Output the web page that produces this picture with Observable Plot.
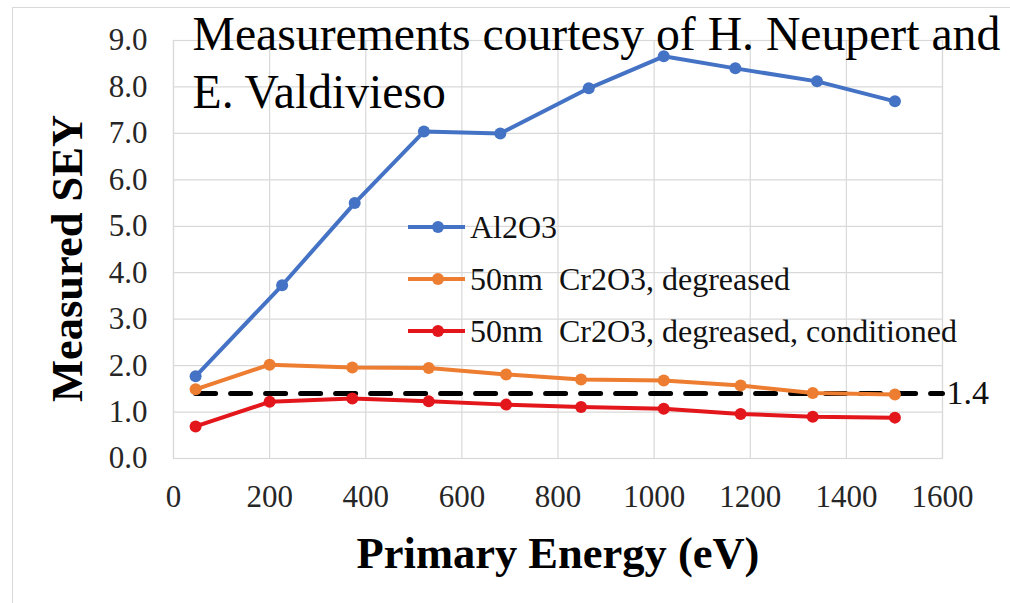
<!DOCTYPE html>
<html>
<head>
<meta charset="utf-8">
<script src="https://cdn.jsdelivr.net/npm/d3@7"></script>
<script src="https://cdn.jsdelivr.net/npm/@observablehq/plot@0.6"></script>
<style>
  html, body { margin: 0; padding: 0; background: #fff; }
  #wrap { position: relative; width: 1010px; height: 603px; overflow: hidden; }
  #border { position: absolute; left: 12px; top: 7px; width: 1100px; height: 700px; border: 1px solid #d9d9d9; box-sizing: border-box; pointer-events: none; }
  #legend { position: absolute; left: 400px; top: 200px; }
</style>
</head>
<body>
<div id="wrap">
  <div id="border"></div>
  <div id="chart"></div>
  <div id="legend"></div>
</div>
<script>
// Series names and colours
const seriesNames = ["Al2O3", "50nm Cr2O3, degreased", "50nm Cr2O3, degreased, conditioned"];
const seriesColors = ["#4472C4", "#ED7D31", "#E3161B"];

// Al2O3
const al2o3Energy = [46, 226, 377, 521, 680, 864, 1020, 1169, 1339, 1501];
const al2o3Sey    = [1.77, 3.73, 5.50, 7.04, 7.00, 7.97, 8.66, 8.40, 8.12, 7.69];

// 50nm Cr2O3, degreased
const cr2o3Energy = [46, 200, 372, 531, 692, 848, 1020, 1180, 1330, 1501];
const cr2o3Sey    = [1.49, 2.02, 1.96, 1.95, 1.81, 1.70, 1.68, 1.57, 1.41, 1.38];

// 50nm Cr2O3, degreased, conditioned
const cr2o3CondEnergy = [46, 200, 372, 531, 692, 848, 1020, 1180, 1330, 1501];
const cr2o3CondSey    = [0.69, 1.22, 1.29, 1.23, 1.16, 1.11, 1.07, 0.96, 0.90, 0.88];

// Threshold line
const thresholdValue = 1.4;
const thresholdRange = [46, 1600];

// Axis ticks
const xTicks = [0, 200, 400, 600, 800, 1000, 1200, 1400, 1600];
const yTicks = [0, 1, 2, 3, 4, 5, 6, 7, 8, 9];

const annotation = "Measurements courtesy of H. Neupert and\nE. Valdivieso";
const xTitle = "Primary Energy (eV)";
const yTitle = "Measured SEY";

const energies = [al2o3Energy, cr2o3Energy, cr2o3CondEnergy];
const seys = [al2o3Sey, cr2o3Sey, cr2o3CondSey];
const data = seriesNames.flatMap((s, i) => energies[i].map((e, j) => ({series: s, x: e, y: seys[i][j]})));
const thresholdData = thresholdRange.map(x => ({x, y: thresholdValue}));

const chart = Plot.plot({
  width: 1010,
  height: 603,
  marginLeft: 173,
  marginRight: 68,
  marginTop: 40,
  marginBottom: 145,
  style: { fontFamily: "Liberation Serif", background: "transparent", overflow: "visible" },
  x: { domain: [0, 1600] },
  y: { domain: [0, 9] },
  color: { domain: seriesNames, range: seriesColors },
  marks: [
    Plot.gridX(xTicks, { stroke: "#d9d9d9", strokeOpacity: 1, strokeWidth: 1.2 }),
    Plot.gridY(yTicks, { stroke: "#d9d9d9", strokeOpacity: 1, strokeWidth: 1.2 }),
    Plot.frame({ stroke: "#d9d9d9", strokeWidth: 1.2 }),
    Plot.axisX(xTicks, { tickSize: 0, tickPadding: 26, fontSize: 31, fill: "#262626", tickFormat: d3.format("d"), label: null }),
    Plot.axisY(yTicks, { tickSize: 0, tickPadding: 26, fontSize: 31, fill: "#262626", tickFormat: d3.format(".1f"), label: null }),
    Plot.line(thresholdData, { x: "x", y: "y", stroke: "#000", strokeWidth: 5, strokeDasharray: "20,15" }),
    Plot.line(data, { x: "x", y: "y", z: "series", stroke: "series", strokeWidth: 4 }),
    Plot.dot(data, { x: "x", y: "y", fill: "series", r: 6, stroke: null }),
    Plot.text([thresholdData[1]], { x: "x", y: "y", text: () => "1.4", textAnchor: "start", dx: 4, fontSize: 34, fill: "#111" }),
    Plot.text([annotation], { frameAnchor: "top-left", textAnchor: "start", lineAnchor: "top", dx: 19, dy: -32, fontSize: 47.7, lineHeight: 1.225, fill: "#000" }),
    Plot.text([xTitle], { frameAnchor: "bottom", textAnchor: "middle", lineAnchor: "middle", dy: 95, fontSize: 44.5, fontWeight: "bold", fill: "#000" }),
    Plot.text([yTitle], { frameAnchor: "left", textAnchor: "middle", lineAnchor: "middle", dx: -106, dy: 9, rotate: -90, fontSize: 44.5, fontWeight: "bold", fill: "#000" })
  ]
});
document.getElementById("chart").appendChild(chart);

// Legend (SVG so the serif font applies)
const lg = d3.select("#legend").append("svg")
  .attr("width", 600).attr("height", 160)
  .style("overflow", "visible");
seriesNames.forEach((name, i) => {
  const g = lg.append("g").attr("transform", `translate(0, ${27 + i * 52})`);
  g.append("line").attr("x1", 8).attr("x2", 65).attr("y1", 0).attr("y2", 0)
    .attr("stroke", seriesColors[i]).attr("stroke-width", 4);
  g.append("circle").attr("cx", 38).attr("cy", 0).attr("r", 6).attr("fill", seriesColors[i]);
  g.append("text").attr("x", 70).attr("y", 0).attr("dy", "0.33em")
    .attr("font-family", "Liberation Serif").attr("font-size", 32).attr("fill", "#111")
    .attr("xml:space", "preserve").style("white-space", "pre")
    .text(name.replace("50nm ", "50nm  "));
});
</script>
</body>
</html>
